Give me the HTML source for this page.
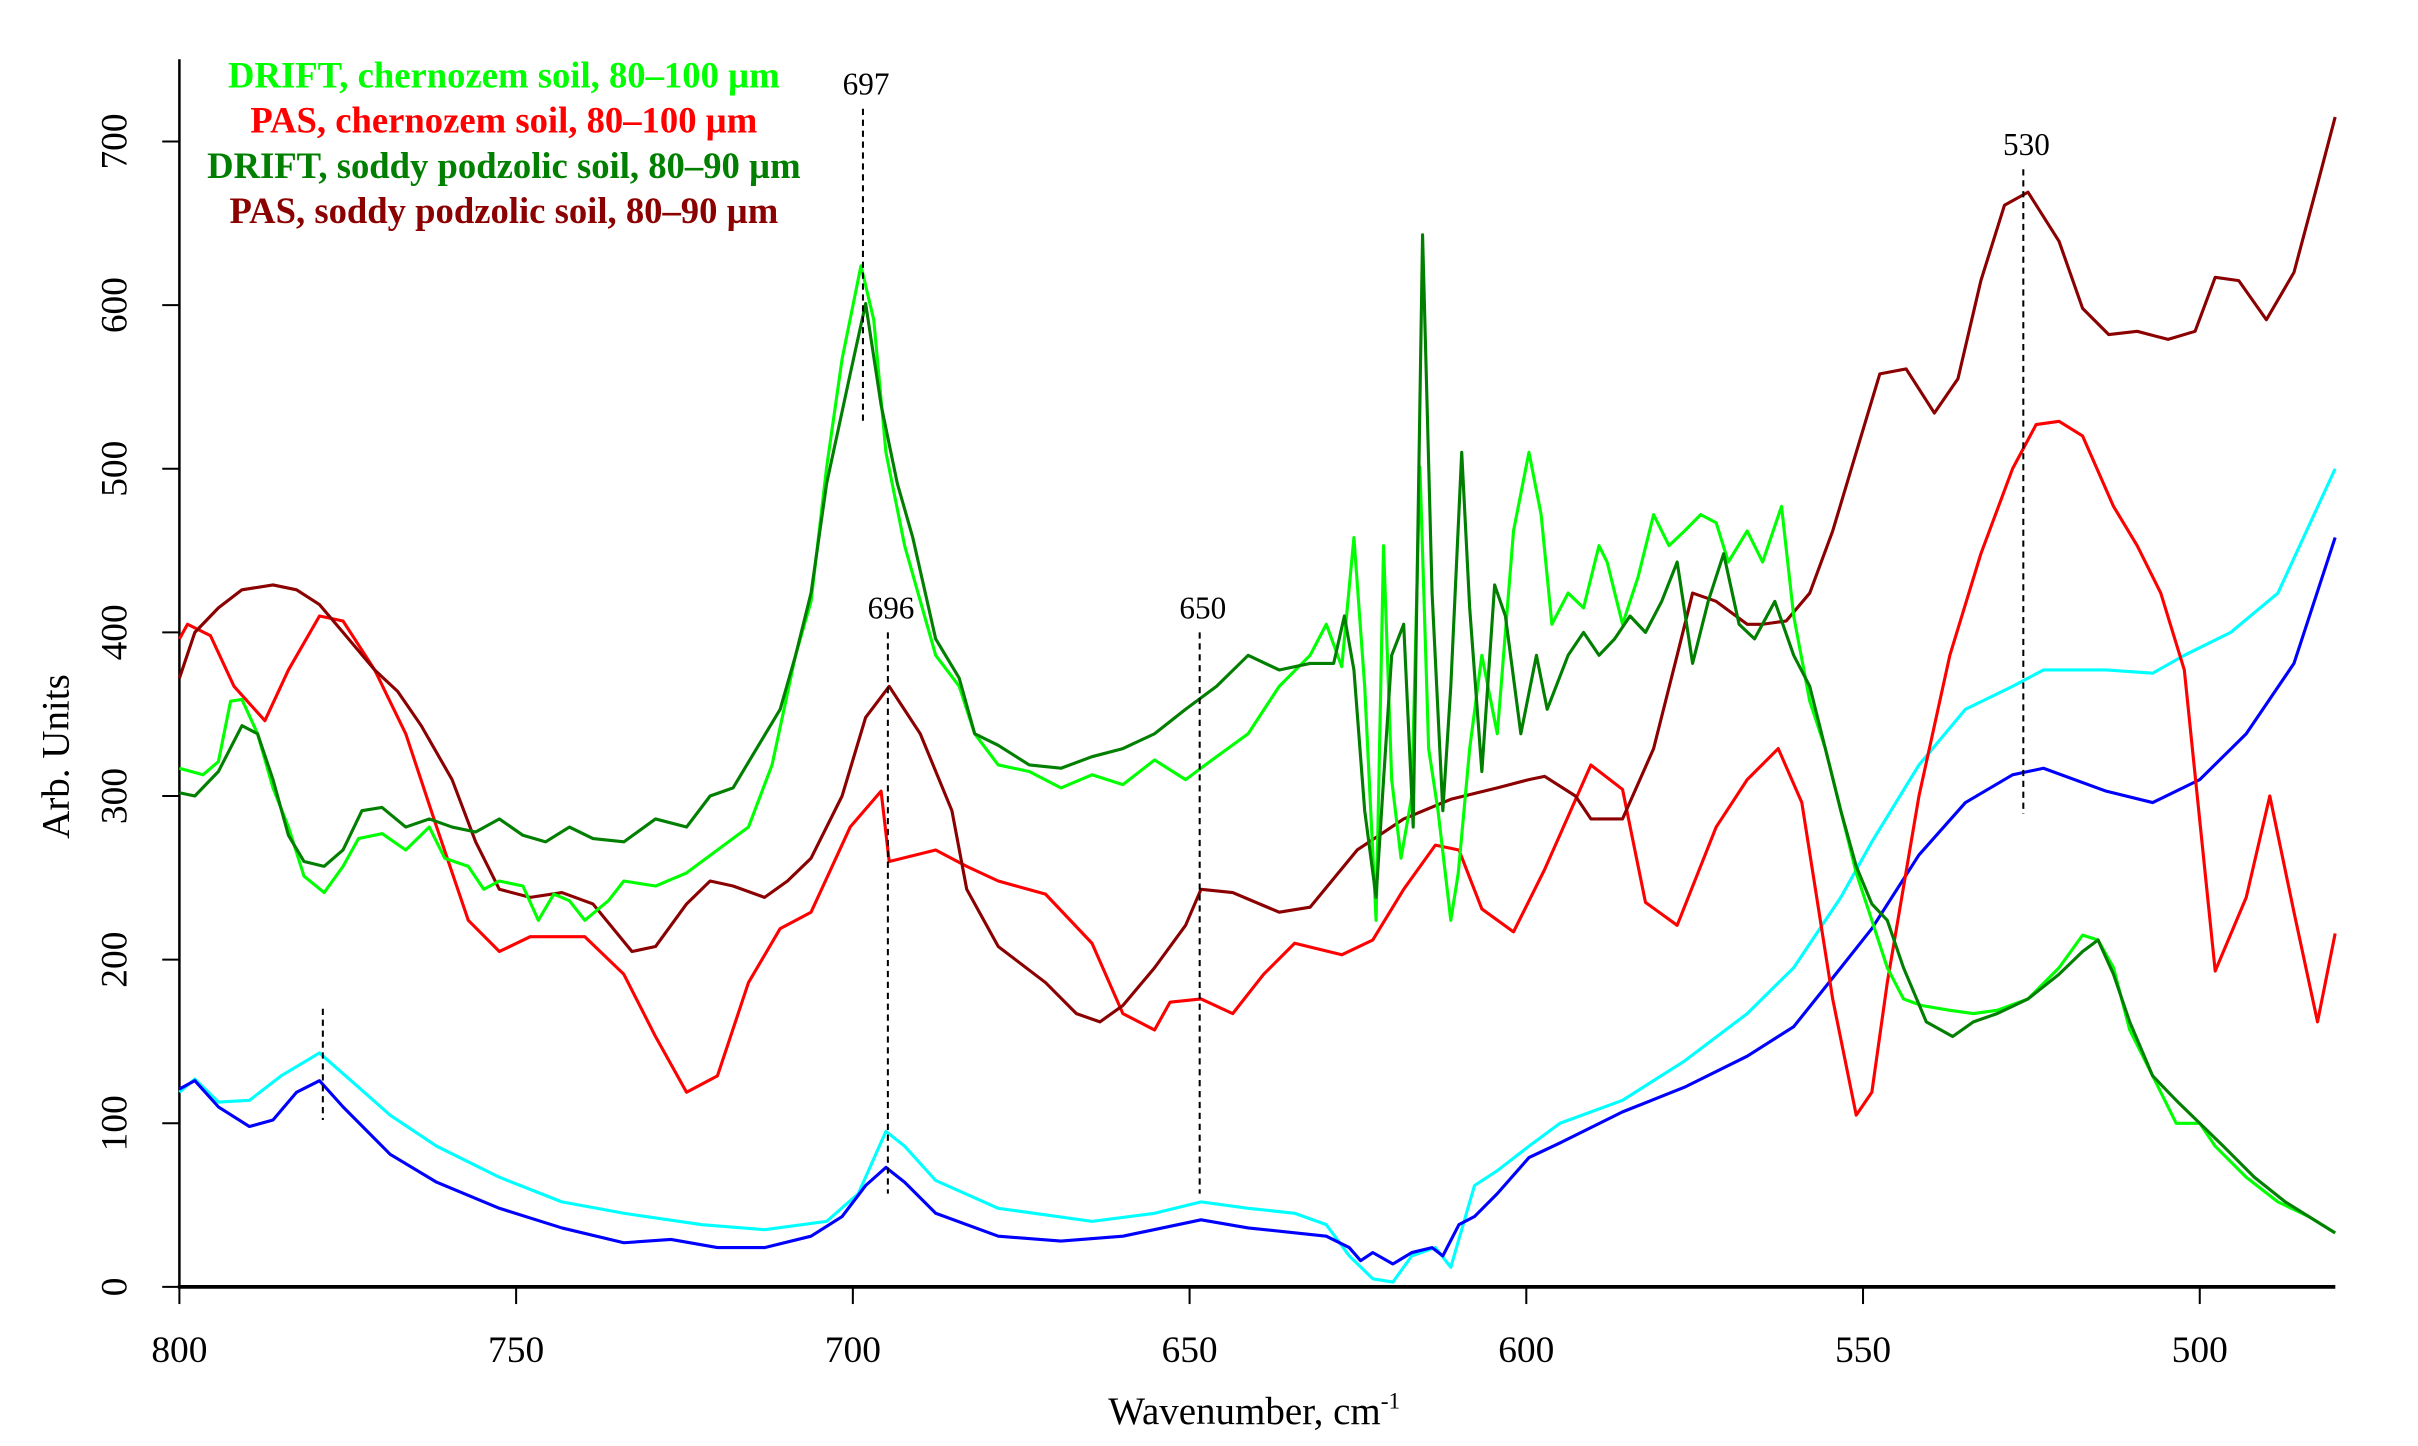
<!DOCTYPE html>
<html><head><meta charset="utf-8"><style>
html,body{margin:0;padding:0;background:#fff;}
svg{display:block;}
text{font-family:"Liberation Serif",serif;}
</style></head><body>
<svg id="chart" width="2418" height="1446" viewBox="0 0 1550 927" preserveAspectRatio="none" xmlns="http://www.w3.org/2000/svg">
<g id="axes"></g>
<g id="series"></g>
<g id="annots"></g>
<g id="legend">
<text x="323" y="56" text-anchor="middle" font-size="23.5" font-weight="bold" fill="#00ff00">DRIFT, chernozem soil, 80–100 µm</text>
<text x="323" y="85" text-anchor="middle" font-size="23.5" font-weight="bold" fill="#ff0000">PAS, chernozem soil, 80–100 µm</text>
<text x="323" y="114" text-anchor="middle" font-size="23.5" font-weight="bold" fill="#007f00">DRIFT, soddy podzolic soil, 80–90 µm</text>
<text x="323" y="143" text-anchor="middle" font-size="23.5" font-weight="bold" fill="#8b0000">PAS, soddy podzolic soil, 80–90 µm</text>
</g>
<text x="804" y="913" text-anchor="middle" font-size="25">Wavenumber, cm<tspan font-size="15" dy="-10">-1</tspan></text>
<text transform="translate(44,485) rotate(-90)" text-anchor="middle" font-size="25">Arb. Units</text>
</svg>
<script>
const xTicks=[800,750,700,650,600,550,500];
const yTicks=[0,100,200,300,400,500,600,700];

const cyanX=[800,797.7,794.2,789.6,784.9,779.2,773.4,768.7,761.8,752.5,743.2,734,722.4,713.1,703.9,699.2,695.1,692.3,687.7,678.4,664.5,655.2,648.3,641.3,634.4,629.7,626.3,622.8,619.8,617,613.5,611.2,607.7,604.3,599.6,595,585.7,576.5,567.2,560.3,553.3,548.7,541.7,534.8,527.8,523.2,513.9,507,502.3,495.4,488.4,479.9];
const cyanY=[119,127,113,114,129,143,122,105,86,67,52,45,38,35,40,57,95,86,65,48,40,45,52,48,45,38,19,5,3,19,24,12,62,71,86,100,114,138,167,195,238,272,319,353,367,377,377,375,386,400,424,500];

const blueX=[800,797.7,794.2,789.6,786.1,782.6,779.2,775.7,768.7,761.8,752.5,743.2,734,727,720.1,713.1,706.2,701.6,698.1,695.1,692.3,687.7,678.4,669.1,659.9,648.3,641.3,629.7,626.3,624.6,622.8,619.8,617,614,612.4,610,607.7,604.3,599.6,595,585.7,576.5,567.2,560.3,553.3,548.7,541.7,534.8,527.8,523.2,513.9,507,500,493.1,486,479.9];
const blueY=[121,126,110,98,102,119,126,110,81,64,48,36,27,29,24,24,31,43,62,73,64,45,31,28,31,41,36,31,24,16,21,14,21,24,19,38,43,57,79,88,107,122,141,159,195,219,264,296,313,317,303,296,310,338,381,458];

const limeX=[800,796.5,794.2,792.4,790.7,788.4,786.1,783.8,781.5,778.5,775.7,773.4,769.9,766.4,762.9,760.6,757.1,754.8,752.5,749,746.7,744.4,742.1,739.8,736.3,734,729.3,724.7,720.1,715.5,712,708.5,706.2,703.9,701.6,698.8,696.9,695.1,692.3,687.7,684.2,681.9,678.4,673.8,669.1,664.5,659.9,655.2,650.6,646,641.3,636.7,632.1,629.7,627.4,625.6,624,622.3,621.2,620,618.6,617,615.8,614.5,613.1,611.2,610.1,608.4,606.6,604.3,601.9,599.6,597.8,596.2,593.8,591.5,589.2,588,585.7,583.4,581.1,578.8,576.5,574.1,571.8,570,567.2,564.9,562.1,560.3,557.9,555.6,553.3,551,548.7,546.4,544,541.3,537.1,533.6,530.1,525.5,520.9,517.4,515.1,512.8,510.4,507,503.5,500,497.7,493.1,488.4,483.8,479.9];
const limeY=[317,313,321,358,359,338,305,281,251,241,257,274,277,267,281,262,257,243,248,245,224,240,236,224,236,248,245,253,267,281,319,386,419,501,567,624,591,510,453,386,367,338,319,315,305,313,307,322,310,324,338,367,386,405,379,458,367,224,453,310,262,300,501,329,291,224,253,329,386,338,462,510,472,405,424,415,453,443,405,434,472,453,462,472,467,443,462,443,477,410,358,329,291,253,224,195,176,172,169,167,169,176,195,215,212,195,157,129,100,100,86,67,52,43,33];

const dgreenX=[800,797.7,794.2,790.7,788.4,786.1,783.8,781.5,778.5,775.7,772.9,769.9,766.4,762.9,759.5,756,752.5,749,745.6,742.1,738.6,734,729.3,724.7,721.2,717.8,714.3,710.8,708.5,706.2,703.9,700.4,698.1,695.8,693.4,691.1,687.7,684.2,681.9,678.4,673.8,669.1,664.5,659.9,655.2,650.6,646,641.3,636.7,632.1,628.6,627,625.6,624,622.3,621.2,620,618.2,616.8,615.4,614,612.4,611.2,609.6,608.4,606.6,604.7,603.1,600.8,598.5,596.9,593.8,591.5,589.2,586.9,584.6,582.3,579.9,577.6,575.3,573,570.7,568.4,566.1,563.1,560.3,557.9,555.6,553.3,551,548.7,546.4,544,540.6,536.7,533.6,530.1,525.5,520.9,517.4,515.1,512.8,510.4,507,503.5,500,496.5,491.9,487.3,483.8,479.9];
const dgreenY=[302,300,315,343,338,310,276,260,257,267,291,293,281,286,281,278,286,276,272,281,274,272,286,281,300,305,329,353,386,424,491,558,601,539,491,458,396,372,338,331,319,317,324,329,338,353,367,386,377,381,381,410,377,291,238,310,386,405,281,643,424,291,367,510,415,315,429,410,338,386,353,386,400,386,396,410,400,419,443,381,419,448,405,396,419,386,367,329,291,257,234,224,195,162,153,162,167,176,191,205,212,191,162,129,114,100,86,67,52,43,33];

const redX=[800,798.8,795.4,791.9,787.3,783.8,779.2,775.7,771,766.4,761.8,757.1,752.5,747.9,743.2,739.8,734,729.3,724.7,720.1,715.5,710.8,706.2,700.4,695.8,694.6,687.7,683.1,678.4,671.4,664.5,659.9,655.2,652.9,648.3,643.6,639,634.4,627.4,622.8,618.2,613.5,610,606.6,601.9,597.3,590.4,585.7,582.3,577.6,571.8,567.2,562.6,559.1,554.5,551,548.7,546.4,541.7,537.1,532.5,527.8,524.3,520.9,517.4,512.8,509.3,505.8,502.3,497.7,493.1,489.6,486,482.5,479.9];
const redY=[396,405,398,367,346,377,410,407,377,338,281,224,205,214,214,214,191,153,119,129,186,219,229,281,303,260,267,257,248,240,210,167,157,174,176,167,191,210,203,212,243,270,267,231,217,255,319,304,235,221,281,310,329,296,176,105,119,186,300,386,448,500,527,529,520,477,453,424,377,193,238,300,229,162,216];

const dredX=[800,797.7,794.2,790.7,786.1,782.6,779.2,775.7,771,767.6,764.1,759.5,756,752.5,747.9,743.2,738.6,732.8,729.3,724.7,721.2,717.8,713.1,709.7,706.2,701.6,698.1,694.6,690,685.3,683.1,678.4,671.4,666.8,663.3,659.9,655.2,650.6,648.3,643.6,636.7,632.1,625.1,618.2,611.2,604.3,599.6,597.3,592.7,590.4,585.7,581.1,577.6,575.3,571.8,567.2,564.9,561.4,557.9,554.5,551,547.5,543.6,539.4,535.9,532.5,529,525.5,520.9,517.4,513.5,509.3,504.7,500.7,497.7,494.2,490.1,486,482.5,479.9];
const dredY=[372,400,415,426,429,426,417,400,377,364,343,310,272,243,238,241,234,205,208,234,248,245,238,248,262,300,348,367,338,291,243,208,186,167,162,172,195,221,243,241,229,232,267,286,298,305,310,312,300,286,286,329,386,424,419,405,405,407,424,462,510,558,561,534,555,615,661,669,639,598,582,584,579,584,617,615,591,620,674,715];

const annotX=[697,696,650,530];
const annotTop=[720,400,400,683];
const annotBottom=[528,57,57,289];
const annotPos=[698.5,694.8,648.5,526.2];
const shortMarkPos=[778.7];
const shortMarkRange=[170,102];

const NS="http://www.w3.org/2000/svg";
const sx=w=>115+(800-w)*4.317;
const sy=v=>825-v*1.049;
function mk(tag,attrs,parent){const e=document.createElementNS(NS,tag);for(const k in attrs)e.setAttribute(k,attrs[k]);parent.appendChild(e);return e;}

const axes=document.getElementById('axes');
let yl=mk('line',{x1:115,y1:38,x2:115,y2:826,stroke:'#000','stroke-width':1.6},axes);


let xl=mk('line',{x1:114,y1:825,x2:1497,y2:825,stroke:'#000','stroke-width':2.4},axes);


xTicks.forEach(t=>{
  let l=mk('line',{x1:sx(t),y1:825,x2:sx(t),y2:836,stroke:'#000','stroke-width':1.3},axes);
  
  
  let tx=mk('text',{x:sx(t),y:873,'text-anchor':'middle','font-size':24},axes);
  tx.textContent=t;
  
  
});
yTicks.forEach(t=>{
  let l=mk('line',{x1:104,y1:sy(t),x2:115,y2:sy(t),stroke:'#000','stroke-width':1.3},axes);
  
  
  let tx=mk('text',{transform:`translate(81,${sy(t)}) rotate(-90)`,'text-anchor':'middle','font-size':24},axes);
  tx.textContent=t;
  
  
});

const ser=document.getElementById('series');
function drawLine(xs,ys,color,name){
  const d=xs.map((x,i)=>(i?'L':'M')+sx(x).toFixed(1)+','+sy(ys[i]).toFixed(1)).join(' ');
  const p=mk('path',{d:d,fill:'none',stroke:color,'stroke-width':2,'stroke-linejoin':'round'},ser);
  
  
}
drawLine(cyanX,cyanY,'#00ffff','cyan-series');
drawLine(blueX,blueY,'#0000ff','blue-series');
drawLine(redX,redY,'#ff0000','pas-chernozem-series');
drawLine(dredX,dredY,'#8b0000','pas-soddy-series');
drawLine(limeX,limeY,'#00ff00','drift-chernozem-series');
drawLine(dgreenX,dgreenY,'#007f00','drift-soddy-series');

const an=document.getElementById('annots');
annotX.forEach((lab,i)=>{
  let l=mk('line',{x1:sx(annotPos[i]),y1:sy(annotTop[i]),x2:sx(annotPos[i]),y2:sy(annotBottom[i]),stroke:'#000','stroke-width':1.3,'stroke-dasharray':'4,3'},an);
  
  
  let t=mk('text',{x:sx(annotPos[i])+2,y:sy(annotTop[i])-9,'text-anchor':'middle','font-size':20},an);
  t.textContent=lab;
  
  
});
let sm=mk('line',{x1:sx(shortMarkPos[0]),y1:sy(shortMarkRange[0]),x2:sx(shortMarkPos[0]),y2:sy(shortMarkRange[1]),stroke:'#000','stroke-width':1.3,'stroke-dasharray':'4,3'},an);


</script>
</body></html>
